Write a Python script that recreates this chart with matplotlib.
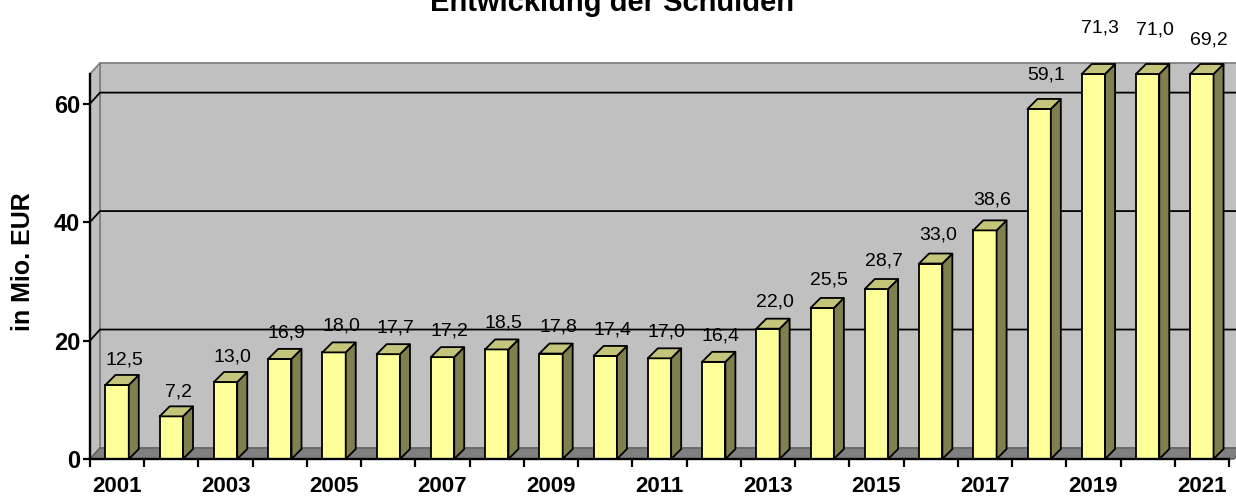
import matplotlib
matplotlib.use("Agg")
import matplotlib.pyplot as plt
from matplotlib.patches import Polygon
import numpy as np

plt.rcParams['font.family'] = ['Liberation Sans', 'DejaVu Sans']

# ---- data ----
years = [str(y) for y in range(2001, 2022)]
values = [12.5, 7.2, 13.0, 16.9, 18.0, 17.7, 17.2, 18.5, 17.8, 17.4, 17.0,
          16.4, 22.0, 25.5, 28.7, 33.0, 38.6, 59.1, 71.3, 71.0, 69.2]
yticks = [0, 20, 40, 60]
title = "Entwicklung der Schulden"
ylabel = "in Mio. EUR"

# ---- style ----
W, H = 1236, 498
YMAX = 65
wall_c = '#C0C0C0'
floor_c = '#808080'
edge_grey = '#808080'
front_c = '#FFFF99'
top_c = '#C4C47A'
side_c = '#80804F'

fig = plt.figure(figsize=(W / 100, H / 100), dpi=100)
ax = fig.add_axes([90 / W, (H - 459) / H, (1229 - 90) / W, (459 - 74) / H])
n = len(values)
x0, x1 = -0.5, n - 0.5
ax.set_xlim(x0, x1)
ax.set_ylim(0, YMAX)
ax.set_facecolor('none')

# pixel -> data conversions
p0 = ax.transData.transform((0, 0))
p1 = ax.transData.transform((1, 1))
ppx, ppy = p1[0] - p0[0], p1[1] - p0[1]
def dxp(px):
    return px / ppx
def dyp(px):
    return px / ppy

# wall depth and bar depth
wdx, wdy = dxp(10), dyp(11)
bdx, bdy = dxp(10), dyp(10)

# back wall
ax.add_patch(Polygon([(x0 + wdx, wdy), (x1 + wdx + dxp(5), wdy),
                      (x1 + wdx + dxp(5), YMAX + wdy), (x0 + wdx, YMAX + wdy)],
                     closed=True, facecolor=wall_c, edgecolor=edge_grey,
                     linewidth=1.3, zorder=0.5, clip_on=False))
# left side wall
ax.add_patch(Polygon([(x0, 0), (x0 + wdx, wdy), (x0 + wdx, YMAX + wdy), (x0, YMAX)],
                     closed=True, facecolor=wall_c, edgecolor=edge_grey,
                     linewidth=1.3, zorder=0.6, clip_on=False))
# floor
ax.add_patch(Polygon([(x0, 0), (x1 + dxp(5), 0), (x1 + wdx + dxp(5), wdy), (x0 + wdx, wdy)],
                     closed=True, facecolor=floor_c, edgecolor='#606060',
                     linewidth=1.0, zorder=0.7, clip_on=False))
# gridlines
for v in yticks[1:]:
    ax.plot([x0, x0 + wdx, x1 + wdx + dxp(5)], [v, v + wdy, v + wdy],
            color='black', linewidth=1.3, zorder=1, clip_on=False,
            solid_capstyle='butt')

# bars
bw = 0.43
centers = np.arange(n)
for i, v in enumerate(values):
    h = min(v, YMAX)
    c = centers[i]
    l, r = c - bw / 2, c + bw / 2
    ax.bar(c, h, width=bw, bottom=0, color=front_c, edgecolor='black',
           linewidth=1.3, zorder=3, clip_on=False)
    ax.add_patch(Polygon([(r, 0), (r + bdx, bdy), (r + bdx, h + bdy), (r, h)],
                         closed=True, facecolor=side_c, edgecolor='black',
                         linewidth=1.3, zorder=3, clip_on=False))
    ax.add_patch(Polygon([(l, h), (r, h), (r + bdx, h + bdy), (l + bdx, h + bdy)],
                         closed=True, facecolor=top_c, edgecolor='black',
                         linewidth=1.3, zorder=3, clip_on=False, joinstyle='round'))
    # value label
    if v > YMAX:
        ly = v + 1.5
    else:
        ly = v + 3.9 + 0.03 * v
    ax.text(c + dxp(7), ly, f"{v:.1f}".replace('.', ','), ha='center', va='center',
            fontsize=14, color='black', zorder=5, clip_on=False)

# spines
for s in ['top', 'right']:
    ax.spines[s].set_visible(False)
for s in ['left', 'bottom']:
    ax.spines[s].set_color('black')
    ax.spines[s].set_linewidth(1.7)
    ax.spines[s].set_zorder(6)

# x ticks: marks at category boundaries, labels at every other category
ax.set_xticks(np.arange(x0, x1 + 0.01, 1))
ax.set_xticklabels([])
ax.set_xticks(centers, minor=True)
ax.set_xticklabels([y if i % 2 == 0 else '' for i, y in enumerate(years)], minor=True,
                   fontsize=16, fontweight='bold')
ax.tick_params(axis='x', which='major', length=6, width=1.6, direction='out', color='black')
ax.tick_params(axis='x', which='minor', length=0, pad=12)

ax.set_yticks(yticks)
ax.set_yticklabels([str(t) for t in yticks], fontsize=17, fontweight='bold')
ax.tick_params(axis='y', which='major', length=5, width=1.6, direction='out', pad=2)

fig.text(612 / W, 1 - 11 / H, title, ha='center', va='baseline',
         fontsize=21, fontweight='bold')
fig.text(23 / W, 1 - 262 / H, ylabel, ha='center', va='center', rotation=90,
         fontsize=18, fontweight='bold')

fig.savefig('out.png', dpi=100)
